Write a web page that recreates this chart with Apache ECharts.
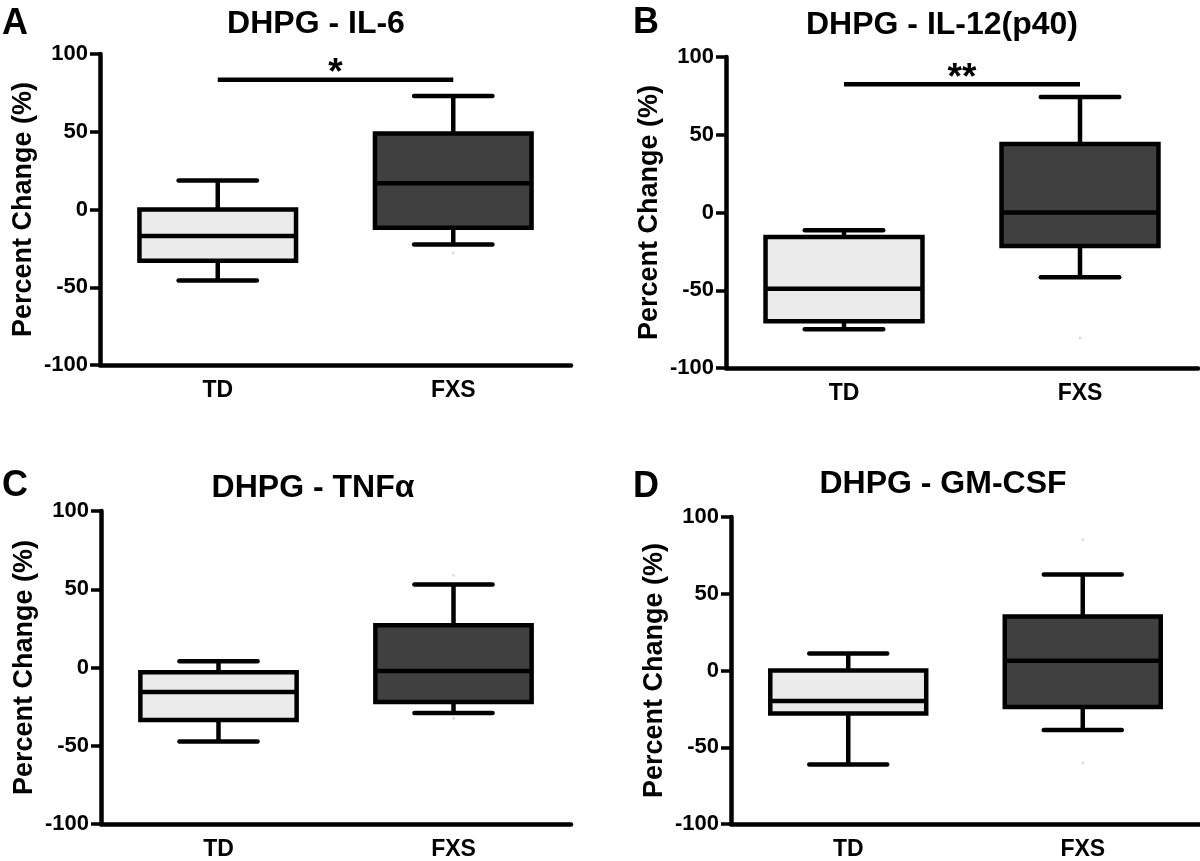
<!DOCTYPE html>
<html>
<head>
<meta charset="utf-8">
<script src="https://cdn.jsdelivr.net/npm/echarts@6/dist/echarts.min.js"></script>
<style>
  html, body { margin: 0; padding: 0; background: #fff; }
  #main { width: 1200px; height: 861px; }
</style>
</head>
<body>
<div id="main"></div>
<script>
// 数据：每个面板 [min, Q1, median, Q3, max]
var categories = ['TD', 'FXS'];
var panelLetters = ['A', 'B', 'C', 'D'];
var panelTitles = ['DHPG - IL-6', 'DHPG - IL-12(p40)', 'DHPG - TNFα', 'DHPG - GM-CSF'];
var yTicks = { min: -100, max: 100, step: 50 };
var yName = 'Percent Change (%)';

var tdStats = [
  [-45.6, -33, -17.1, 0, 18.6],
  [-75, -70, -49, -15.7, -11.4],
  [-47.3, -33.6, -15.6, -3, 4],
  [-61.2, -28, -19.9, 0, 11.1]
];
var fxsStats = [
  [-22.5, -11.8, 16.9, 48.8, 73],
  [-41.6, -21.5, 0, 44, 74.2],
  [-29, -22, -2.3, 27, 53],
  [-38.8, -23.8, 6.4, 35.1, 62.5]
];
// 显著性标记
var sigLevel = [83.5, 82.4, null, null];
var sigText = ['*', '**', null, null];
// FXS 组的淡色离群点
var fxsFaint = [[-27.8], [-80.6], [58.9, -32.5], [85.4, -60.2]];

var FONT = "'Liberation Sans', Arial, sans-serif";
var LW = 4.5;

// 各面板的绘图区位置
var grids = [
  { left: 100, top: 54, width: 471, height: 311 },
  { left: 726, top: 57, width: 472, height: 311 },
  { left: 101, top: 511, width: 470, height: 316 },
  { left: 731, top: 517, width: 469, height: 311 }
];
var titlePos = [[316, 24], [942, 25], [313, 488], [943, 484]];
var letterPos = [[2, 24], [633, 23], [2, 486], [633, 487]];

function renderBox(params, api) {
  var i = api.value(0);
  var x = api.coord([i, 0])[0];
  var band = api.size([1, 0])[0];
  var bw = band * 0.665, cw = bw / 2;
  function y(k) { return api.coord([i, api.value(k)])[1]; }
  var yMin = y(1), yQ1 = y(2), yMed = y(3), yQ3 = y(4), yMax = y(5);
  var ls = { stroke: '#000', lineWidth: LW };
  var cap = { stroke: '#000', lineWidth: LW, lineCap: 'round' };
  return {
    type: 'group',
    children: [
      { type: 'line', shape: { x1: x, y1: yMax, x2: x, y2: yQ3 }, style: ls },
      { type: 'line', shape: { x1: x, y1: yQ1, x2: x, y2: yMin }, style: ls },
      { type: 'line', shape: { x1: x - cw / 2, y1: yMax, x2: x + cw / 2, y2: yMax }, style: cap },
      { type: 'line', shape: { x1: x - cw / 2, y1: yMin, x2: x + cw / 2, y2: yMin }, style: cap },
      { type: 'rect', shape: { x: x - bw / 2, y: yQ3, width: bw, height: yQ1 - yQ3 },
        style: { fill: i === 0 ? '#ebebeb' : '#404040', stroke: '#000', lineWidth: LW } },
      { type: 'line', shape: { x1: x - bw / 2, y1: yMed, x2: x + bw / 2, y2: yMed }, style: ls }
    ]
  };
}

function renderSig(params, api) {
  var p0 = api.coord([api.value(0), api.value(2)]);
  var p1 = api.coord([api.value(1), api.value(2)]);
  return {
    type: 'group',
    children: [
      { type: 'line', shape: { x1: p0[0], y1: p0[1], x2: p1[0], y2: p1[1] },
        style: { stroke: '#000', lineWidth: LW } },
      { type: 'text', x: (p0[0] + p1[0]) / 2, y: p0[1] - 6,
        style: { text: api.value(3) === 1 ? '**' : '*', font: 'bold 37px ' + FONT,
          fill: '#000', align: 'center', verticalAlign: 'middle' } }
    ]
  };
}

var option = { animation: false, backgroundColor: '#fff', grid: [], xAxis: [], yAxis: [], series: [], graphic: [] };

for (var p = 0; p < 4; p++) {
  option.grid.push(grids[p]);
  option.xAxis.push({
    type: 'category', gridIndex: p, data: categories, boundaryGap: true,
    axisLine: { onZero: false, lineStyle: { color: '#000', width: LW } },
    axisTick: { alignWithLabel: true, length: 10, lineStyle: { color: '#000', width: 3.5 } },
    axisLabel: { color: '#000', fontFamily: FONT, fontWeight: 'bold', fontSize: 23, margin: 14 },
    splitLine: { show: false }
  });
  option.yAxis.push({
    type: 'value', gridIndex: p, min: yTicks.min, max: yTicks.max, interval: yTicks.step,
    name: yName, nameLocation: 'middle', nameRotate: 90, nameGap: 63,
    nameTextStyle: { color: '#000', fontFamily: FONT, fontWeight: 'bold', fontSize: 27 },
    axisLine: { show: true, onZero: false, lineStyle: { color: '#000', width: LW } },
    axisTick: { show: true, length: 10, lineStyle: { color: '#000', width: 3.5 } },
    axisLabel: { color: '#000', fontFamily: FONT, fontWeight: 'bold', fontSize: 22, margin: 12 },
    splitLine: { show: false }
  });
  option.series.push({
    type: 'custom', xAxisIndex: p, yAxisIndex: p,
    renderItem: renderBox,
    encode: { x: 0, y: [1, 2, 3, 4, 5] },
    data: [[0].concat(tdStats[p]), [1].concat(fxsStats[p])],
    z: 3
  });
  option.series.push({
    type: 'scatter', xAxisIndex: p, yAxisIndex: p, symbolSize: 3, silent: true,
    itemStyle: { color: '#d4d4d4' },
    data: fxsFaint[p].map(function (v) { return [1, v]; }),
    z: 2
  });
  if (sigLevel[p] !== null) {
    option.series.push({
      type: 'custom', xAxisIndex: p, yAxisIndex: p,
      renderItem: renderSig,
      encode: { x: [0, 1], y: 2 },
      data: [[0, 1, sigLevel[p], sigText[p].length - 1]],
      z: 4
    });
  }
  option.graphic.push({
    type: 'text', x: titlePos[p][0], y: titlePos[p][1],
    style: { text: panelTitles[p], font: 'bold 32px ' + FONT, fill: '#000', align: 'center', verticalAlign: 'middle' }
  });
  option.graphic.push({
    type: 'text', x: letterPos[p][0], y: letterPos[p][1],
    style: { text: panelLetters[p], font: 'bold 36px ' + FONT, fill: '#000', align: 'left', verticalAlign: 'middle' }
  });
}

var myChart = echarts.init(document.getElementById('main'));
myChart.setOption(option);
</script>
</body>
</html>
